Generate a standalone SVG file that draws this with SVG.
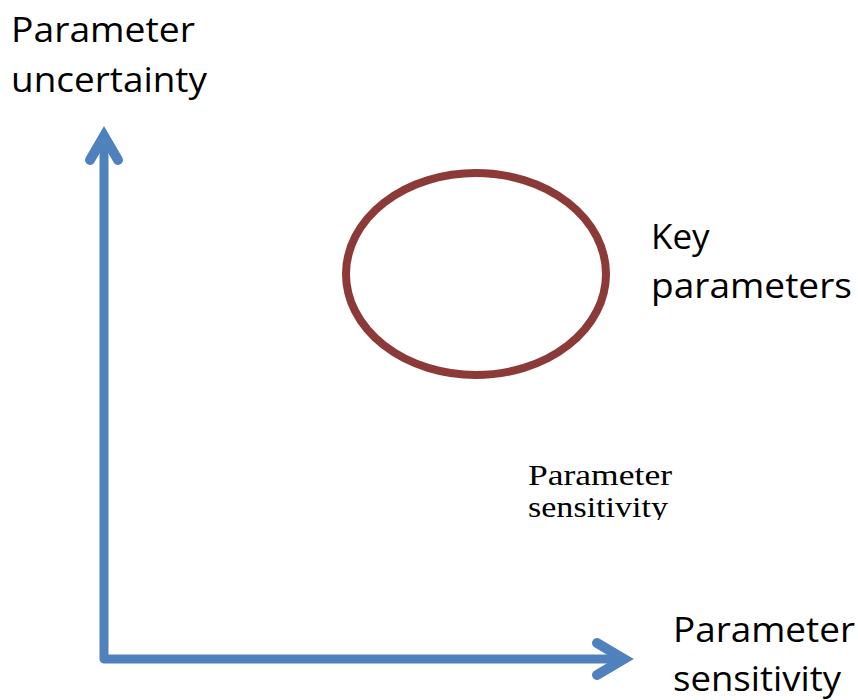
<svg xmlns="http://www.w3.org/2000/svg" width="858" height="700" viewBox="0 0 858 700">
<defs>
<style>
.sans{font-family:"Open Sans","Liberation Sans",sans-serif;font-size:35px;fill:#000}
.serif{font-family:"Liberation Serif","DejaVu Serif",serif;font-size:30px;fill:#000}
.axis{stroke:#4F81BD;stroke-width:9;fill:none;stroke-linejoin:round;stroke-linecap:butt}
.head{stroke:#4F81BD;stroke-width:10;fill:none;stroke-linejoin:miter;stroke-linecap:round}
</style>
<clipPath id="clipmid"><rect x="520" y="450" width="170" height="70"/></clipPath>
</defs>
<rect width="858" height="700" fill="#fff"/>
<g id="connectors">
<polyline class="axis" points="104,138 104,659 622,659"/>
<polyline class="head" points="90,160 104,136 118,160"/>
<polyline class="head" points="597,643 624,659 597,675"/>
</g>
<g id="key-parameters">
<ellipse cx="476" cy="274" rx="130" ry="101" fill="none" stroke="#8B3A38" stroke-width="8"/>
<text class="sans" x="651" y="249">Key</text>
<text class="sans" x="651" y="298" textLength="201" lengthAdjust="spacingAndGlyphs">parameters</text>
</g>
<g id="y-label">
<text class="sans" x="11" y="42" textLength="184" lengthAdjust="spacingAndGlyphs">Parameter</text>
<text class="sans" x="11" y="92" textLength="196" lengthAdjust="spacingAndGlyphs">uncertainty</text>
</g>
<g id="x-label">
<text class="sans" x="673" y="642" textLength="182" lengthAdjust="spacingAndGlyphs">Parameter</text>
<text class="sans" x="673" y="691" textLength="168" lengthAdjust="spacingAndGlyphs">sensitivity</text>
</g>
<g id="mid-label" clip-path="url(#clipmid)">
<text class="serif" x="528" y="485" textLength="144" lengthAdjust="spacingAndGlyphs">Parameter</text>
<text class="serif" x="528" y="517" textLength="140" lengthAdjust="spacingAndGlyphs">sensitivity</text>
</g>
</svg>
